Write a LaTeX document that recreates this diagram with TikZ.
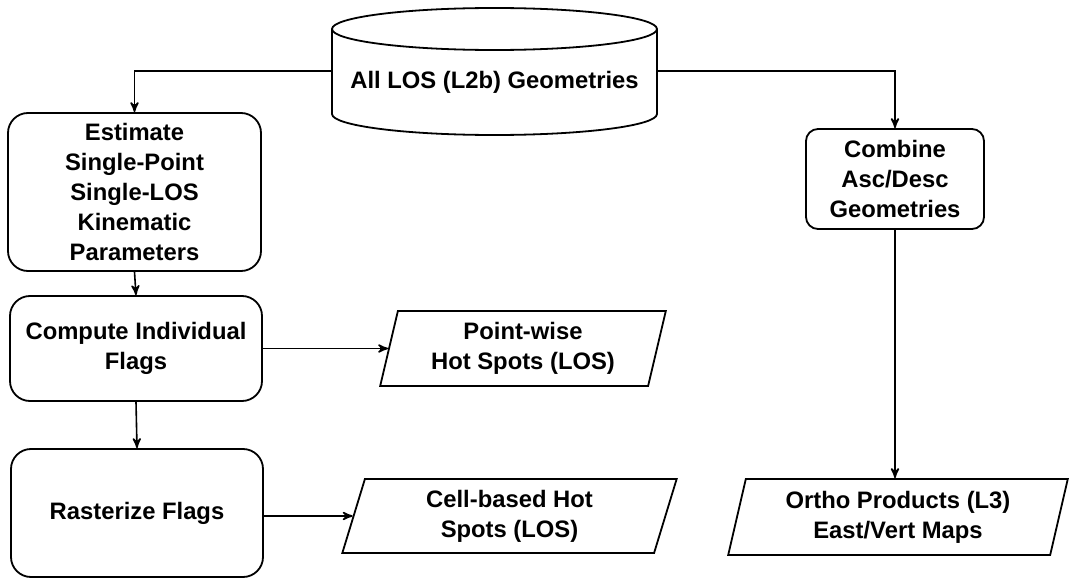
\documentclass[tikz,border=0pt]{standalone}
\usepackage{fontspec}
\setmainfont{Liberation Sans}
\usetikzlibrary{arrows,shapes.geometric}
\tikzset{
  flownode/.style = {align=center, inner sep=0pt, text centered,
    font=\bfseries\fontsize{11.9}{15}\selectfont, line width=0.9pt},
  proc_r/.style = {flownode, rectangle, draw, rounded corners=10pt},% processing step, big corners
  proc_s/.style = {flownode, rectangle, draw, rounded corners=6pt},% processing step, small corners
  data_p/.style = {flownode, trapezium, draw, trapezium left angle=76,
    trapezium right angle=104, trapezium stretches=true},% output product
  db_l/.style = {flownode},% text of the database
}

\begin{document}
\begin{tikzpicture}[x=0.5pt,y=-0.5pt,->,>=stealth',line width=0.8pt]
\useasboundingbox (0,0) rectangle (1073,578);
% database
\coordinate (losW) at (332,71);
\coordinate (losE) at (657,71);
\draw[-,line width=0.9pt] (332,29) -- (332,114) arc[start angle=180,end angle=0,x radius=162.5,y radius=21]
  -- (657,29) arc[start angle=0,end angle=-180,x radius=162.5,y radius=21]
  arc[start angle=180,end angle=0,x radius=162.5,y radius=21];
\node [db_l] (los) at (494.5,82) {All LOS (L2b) Geometries};
% left branch
\node [proc_r, minimum width=126.5pt, minimum height=79pt] (est) at (134.5,192)
  {Estimate\\Single-Point\\Single-LOS\\Kinematic\\Parameters};
\node [proc_r, minimum width=126pt, minimum height=52.5pt] (comp) at (136,348.5)
  {Compute Individual\\Flags};
\node [proc_r, minimum width=126pt, minimum height=64pt] (rast) at (137,513)
  {Rasterize Flags};
\node [data_p, minimum width=143pt, minimum height=37.5pt] (pw) at (523,348.5)
  {Point-wise\\Hot Spots (LOS)};
\node [data_p, minimum width=168.5pt, minimum height=37pt] (cb) at (509.5,516)
  {Cell-based Hot\\Spots (LOS)};
% right branch
\node [proc_s, minimum width=89pt, minimum height=50pt] (comb) at (895,179)
  {Combine\\Asc/Desc\\Geometries};
\node [data_p, minimum width=170pt, minimum height=38pt] (ortho) at (898,517)
  {Ortho Products (L3)\\East/Vert Maps};
% connectors
\draw (losW) -| (est.north);
\draw (losE) -| (comb.north);
\draw (est.south) -- (comp.north);
\draw (comp.south) -- (rast.north);
\draw (comp.east) -- (pw.west);
\draw (rast.east |- cb.west) -- (cb.west);
\draw (comb.south) -- (comb.south |- ortho.north);
\end{tikzpicture}
\end{document}
